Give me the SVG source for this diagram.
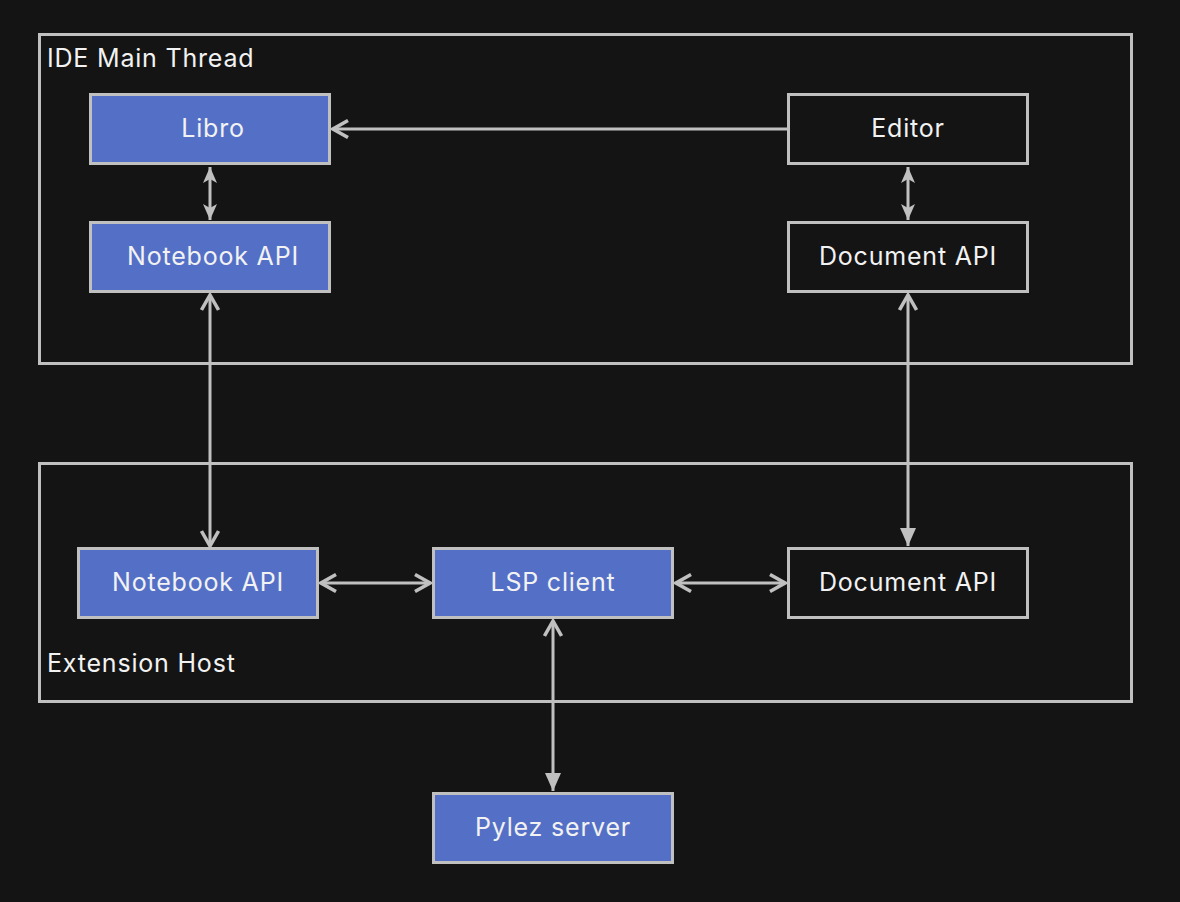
<svg xmlns="http://www.w3.org/2000/svg" width="1180" height="902" viewBox="0 0 1180 902">
<style>
.frame{fill:none;stroke:#c0c0c0;stroke-width:3}
.blue{fill:#5470c6;stroke:#c0c0c0;stroke-width:3}
.dark{fill:#141414;stroke:#c0c0c0;stroke-width:3}
.t{font-family:Inter,"Noto Sans",sans-serif;font-size:25px;letter-spacing:0.8px;fill:#f2f2f2}
.c{text-anchor:middle;dominant-baseline:central}
.ln{fill:none;stroke:#c0c0c0;stroke-width:3}
</style>
<defs>
<marker id="chev" viewBox="0 0 20 20" refX="18" refY="10" markerWidth="20" markerHeight="20" markerUnits="userSpaceOnUse" orient="auto-start-reverse">
<path d="M3,1.5 L18,10 L3,18.5" fill="none" stroke="#c0c0c0" stroke-width="3.5"/>
</marker>
<marker id="tri" viewBox="0 0 20 20" refX="19" refY="10" markerWidth="20" markerHeight="20" markerUnits="userSpaceOnUse" orient="auto-start-reverse">
<path d="M1,2 L19,10 L1,18 Z" fill="#c0c0c0"/>
</marker>
<marker id="small" viewBox="0 0 18 16" refX="17" refY="8" markerWidth="18" markerHeight="16" markerUnits="userSpaceOnUse" orient="auto-start-reverse">
<path d="M1,1 L17,8 L1,15 L5,8 Z" fill="#c0c0c0"/>
</marker>
</defs>
<rect width="1180" height="902" fill="#141414"/>
<g id="ide-main-thread">
<rect class="frame" x="39.5" y="34.5" width="1092" height="329"/>
<text class="t" x="47" y="67">IDE Main Thread</text>
</g>
<g id="extension-host">
<rect class="frame" x="39.5" y="463.5" width="1092" height="238"/>
<text class="t" x="47" y="672">Extension Host</text>
</g>
<g id="connectors">
<line class="ln" x1="788" y1="129" x2="333" y2="129" marker-end="url(#chev)"/>
<line class="ln" x1="210" y1="167" x2="210" y2="220" marker-start="url(#small)" marker-end="url(#small)"/>
<line class="ln" x1="210" y1="295" x2="210" y2="546" marker-start="url(#chev)" marker-end="url(#chev)"/>
<line class="ln" x1="908" y1="167" x2="908" y2="220" marker-start="url(#small)" marker-end="url(#small)"/>
<line class="ln" x1="908" y1="295" x2="908" y2="546" marker-start="url(#chev)" marker-end="url(#tri)"/>
<line class="ln" x1="321" y1="583" x2="430" y2="583" marker-start="url(#chev)" marker-end="url(#chev)"/>
<line class="ln" x1="676" y1="583" x2="785" y2="583" marker-start="url(#chev)" marker-end="url(#chev)"/>
<line class="ln" x1="553" y1="621" x2="553" y2="791" marker-start="url(#chev)" marker-end="url(#tri)"/>
</g>
<g id="libro">
<rect class="blue" x="90.5" y="94.5" width="239" height="69"/>
<text class="t c" x="213" y="128">Libro</text>
</g>
<g id="notebook-api-main">
<rect class="blue" x="90.5" y="222.5" width="239" height="69"/>
<text class="t c" x="213" y="256">Notebook API</text>
</g>
<g id="editor">
<rect class="dark" x="788.5" y="94.5" width="239" height="69"/>
<text class="t c" x="908" y="128">Editor</text>
</g>
<g id="document-api-main">
<rect class="dark" x="788.5" y="222.5" width="239" height="69"/>
<text class="t c" x="908" y="256">Document API</text>
</g>
<g id="notebook-api-ext">
<rect class="blue" x="78.5" y="548.5" width="239" height="69"/>
<text class="t c" x="198" y="582">Notebook API</text>
</g>
<g id="lsp-client">
<rect class="blue" x="433.5" y="548.5" width="239" height="69"/>
<text class="t c" x="553" y="582">LSP client</text>
</g>
<g id="document-api-ext">
<rect class="dark" x="788.5" y="548.5" width="239" height="69"/>
<text class="t c" x="908" y="582">Document API</text>
</g>
<g id="pylez-server">
<rect class="blue" x="433.5" y="793.5" width="239" height="69"/>
<text class="t c" x="553" y="827">Pylez server</text>
</g>
</svg>
